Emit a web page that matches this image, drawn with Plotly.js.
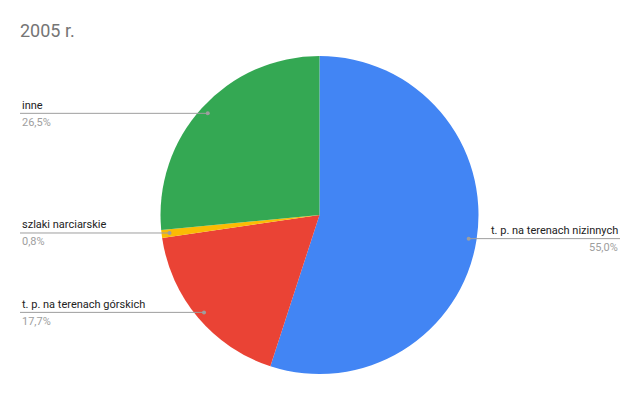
<!DOCTYPE html>
<html>
<head>
<meta charset="utf-8">
<script src="https://cdn.plot.ly/plotly-3.0.1.min.js"></script>
<style>
  html, body { margin: 0; padding: 0; background: #fff; }
  #chart { width: 640px; height: 395px; }
</style>
</head>
<body>
<div id="chart"></div>
<script>
// Struktura szlaków turystycznych, 2005 r.
const categories = [
  't. p. na terenach nizinnych',
  't. p. na terenach górskich',
  'szlaki narciarskie',
  'inne'
];
const shares = [55.0, 17.7, 0.8, 26.5];
const percentLabels = ['55,0%', '17,7%', '0,8%', '26,5%'];
const sliceColors = ['#4285F4', '#EA4335', '#FBBC04', '#34A853'];

const W = 640, H = 395;
const cx = 319.5, cy = 215, R = 159;
const domX = [(cx - R) / W, (cx + R) / W];
const domY = [(H - cy - R) / H, (H - cy + R) / H];

const fontFamily = 'Roboto, Arial, sans-serif';
const pieTrace = {
  type: 'pie',
  labels: categories,
  values: shares,
  sort: false,
  direction: 'clockwise',
  rotation: 0,
  textinfo: 'none',
  hoverinfo: 'label+percent',
  marker: { colors: sliceColors, line: { width: 0 } },
  domain: { x: domX, y: domY },
  showlegend: false
};

// Leader lines: a dot inside each slice, a horizontal line out to the edge,
// name above the line, percentage below.
const shapes = [];
const annotations = [];
const total = shares.reduce((a, b) => a + b, 0);
let cum = 0;
const px = x => x / W;
const py = y => 1 - y / H;
shares.forEach((v, i) => {
  const mid = (cum + v / 2) / total;
  cum += v;
  const ang = mid * 2 * Math.PI;
  const dx = cx + 0.95 * R * Math.sin(ang);
  const dy = cy - 0.95 * R * Math.cos(ang);
  const right = Math.sin(ang) > 0;
  const endX = right ? 620 : 20;
  shapes.push({
    type: 'line', xref: 'paper', yref: 'paper',
    x0: px(dx), y0: py(dy), x1: px(endX), y1: py(dy),
    line: { color: '#9e9e9e', width: 1 }
  });
  shapes.push({
    type: 'circle', xref: 'paper', yref: 'paper',
    x0: px(dx - 2), y0: py(dy - 2), x1: px(dx + 2), y1: py(dy + 2),
    fillcolor: '#9e9e9e', line: { width: 0 }
  });
  annotations.push({
    xref: 'paper', yref: 'paper',
    x: px(endX), y: py(dy - 8),
    xanchor: right ? 'right' : 'left', yanchor: 'middle',
    text: categories[i], showarrow: false,
    font: { family: fontFamily, size: 11, color: '#222222' }
  });
  annotations.push({
    xref: 'paper', yref: 'paper',
    x: px(endX), y: py(dy + 9),
    xanchor: right ? 'right' : 'left', yanchor: 'middle',
    text: percentLabels[i], showarrow: false,
    font: { family: fontFamily, size: 11, color: '#9e9e9e' }
  });
});

const layout = {
  width: W, height: H,
  margin: { l: 0, r: 0, t: 0, b: 0 },
  paper_bgcolor: '#ffffff',
  title: {
    text: '2005 r.',
    x: 20 / W, xanchor: 'left', xref: 'paper',
    y: 1 - 31 / H, yanchor: 'middle', yref: 'paper',
    font: { family: fontFamily, size: 18, color: '#757575' }
  },
  shapes: shapes,
  annotations: annotations
};

Plotly.newPlot('chart', [pieTrace], layout, { displayModeBar: false, staticPlot: true });
</script>
</body>
</html>
